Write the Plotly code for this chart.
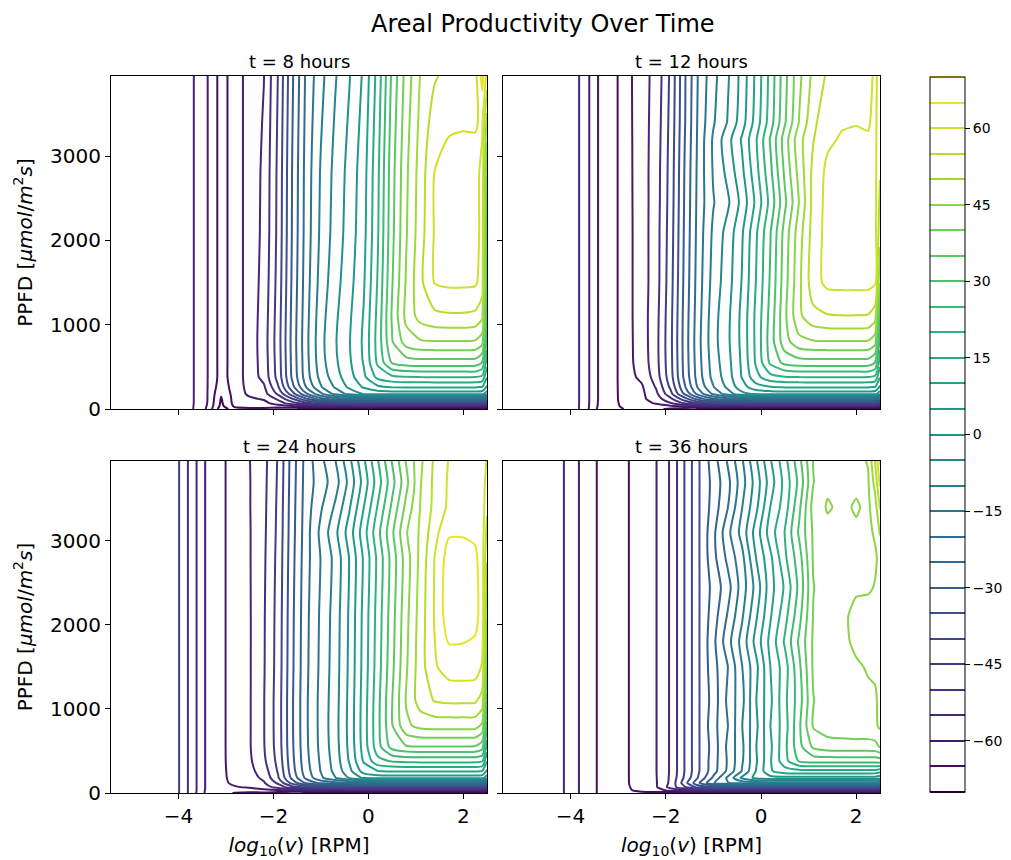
import plotly.graph_objects as go

# ---- grid (log10 rotation speed, PPFD) ----
LOGV = [-5.42, -4.3, -4.0, -3.7, -3.4, -3.1, -2.8, -2.5, -2.2, -1.9, -1.6, -1.3, -1.0,
        -0.7, -0.4, -0.1, 0.2, 0.5, 0.8, 1.1, 1.4, 1.7, 2.0, 2.25, 2.4, 2.5]
PPFD_8 = [0, 30, 70, 120, 180, 260, 380, 550, 800, 1100, 1500, 2100, 2800, 3400, 3950]
PPFD_12 = [0, 30, 70, 120, 180, 260, 380, 550, 800, 1100, 1500, 2100, 2450, 2800, 3200, 3400, 3950]
PPFD_24 = [0, 30, 70, 120, 180, 260, 380, 550, 800, 1100, 1500, 2100, 2800, 3100, 3400, 3700, 3950]
PPFD_36 = [0, 30, 70, 120, 180, 260, 380, 550, 800, 1100, 1500, 1800, 2100, 2450, 2800,
           3100, 3400, 3700, 3950]

# areal productivity, rows follow PPFD, columns follow LOGV
Z_8H = [
    [-52.5, -52.6, -52.8, -54.8, -60.5, -73.0, -67.0, -66.0, -66.5, -68.0, -69.5, -71.0, -72.0, -72.0, -72.0, -72.0, -72.0, -72.0, -72.0, -72.0, -72.0, -72.0, -72.0, -72.0, -72.0, -72.0],
    [-52.5, -52.6, -52.8, -54.7, -60.2, -71.5, -64.0, -63.5, -63.0, -62.5, -61.0, -59.5, -58.8, -58.3, -58.1, -58.1, -58.1, -58.1, -58.1, -58.1, -58.1, -58.1, -58.1, -58.1, -58.1, -60.5],
    [-52.5, -52.6, -52.8, -54.6, -59.8, -70.8, -63.0, -62.0, -61.5, -57.5, -52.0, -46.0, -43.0, -41.0, -40.5, -40.3, -40.2, -40.2, -40.2, -40.2, -40.2, -40.2, -40.2, -40.2, -40.5, -43.0],
    [-52.5, -52.6, -52.8, -54.6, -59.6, -70.4, -62.8, -60.8, -59.5, -54.0, -45.3, -35.3, -27.0, -23.0, -21.0, -20.5, -20.2, -20.2, -20.2, -20.2, -20.2, -20.2, -20.2, -20.2, -20.5, -24.0],
    [-52.5, -52.6, -52.8, -54.6, -59.6, -69.5, -62.6, -59.0, -57.0, -49.0, -37.0, -25.5, -16.0, -8.5, -3.5, 0.3, 1.6, 2.0, 2.0, 2.0, 2.0, 2.0, 2.0, 2.0, 1.6, -3.0],
    [-52.5, -52.6, -52.8, -54.6, -59.6, -68.0, -62.5, -58.3, -55.8, -45.5, -31.5, -19.5, -10.5, -4.5, 1.0, 5.5, 9.0, 10.3, 10.5, 10.5, 10.5, 10.5, 10.5, 10.5, 9.8, 4.0],
    [-52.5, -52.6, -52.8, -54.6, -59.6, -67.0, -62.5, -57.8, -53.4, -43.1, -29.0, -17.0, -8.3, -2.2, 3.0, 8.8, 16.5, 19.0, 19.8, 20.1, 20.2, 20.2, 20.2, 20.1, 19.0, 10.3],
    [-52.5, -52.6, -52.8, -54.6, -59.6, -67.0, -62.5, -57.8, -52.9, -42.6, -28.5, -16.5, -7.0, -1.0, 4.2, 10.3, 21.0, 30.5, 32.5, 33.0, 33.0, 33.0, 33.0, 32.8, 29.7, 17.0],
    [-52.5, -52.6, -52.8, -54.6, -59.6, -67.0, -62.5, -57.8, -52.6, -42.3, -28.2, -16.2, -6.5, -0.5, 4.7, 10.8, 22.0, 34.6, 42.5, 44.5, 44.8, 44.8, 44.8, 44.6, 42.0, 22.0],
    [-52.5, -52.6, -52.8, -54.6, -59.6, -67.0, -62.5, -57.8, -52.9, -42.6, -28.5, -16.5, -7.0, -1.0, 4.2, 10.3, 21.5, 35.6, 46.6, 52.0, 53.8, 54.3, 54.3, 53.8, 51.0, 26.0],
    [-52.5, -52.6, -52.8, -54.6, -59.6, -67.0, -62.5, -57.8, -53.4, -43.1, -29.0, -17.0, -8.0, -2.0, 3.2, 9.3, 20.5, 34.6, 45.6, 53.9, 60.3, 61.0, 61.0, 60.8, 58.0, 29.0],
    [-52.5, -52.6, -52.8, -54.6, -59.6, -67.0, -62.5, -57.8, -53.9, -43.6, -29.5, -17.5, -9.0, -3.0, 2.2, 8.3, 19.5, 33.6, 44.6, 52.9, 60.5, 62.8, 63.5, 62.0, 58.5, 33.0],
    [-52.5, -52.6, -52.8, -54.6, -59.6, -67.0, -62.5, -57.8, -54.1, -43.8, -29.7, -17.7, -9.5, -3.5, 1.7, 7.8, 19.0, 33.1, 44.1, 52.4, 60.2, 62.6, 63.3, 62.0, 58.5, 40.4],
    [-52.5, -52.6, -52.8, -54.6, -59.6, -67.0, -62.5, -57.8, -54.6, -44.3, -30.2, -18.2, -10.5, -4.5, 0.7, 6.8, 18.0, 32.1, 43.1, 51.4, 57.5, 59.0, 59.3, 59.5, 60.8, 48.0],
    [-52.5, -52.6, -52.8, -54.6, -59.6, -67.0, -62.5, -57.8, -55.1, -44.8, -30.7, -18.7, -11.5, -5.5, -0.3, 5.8, 17.0, 31.1, 42.1, 50.4, 54.5, 56.5, 57.0, 58.0, 67.0, 58.0],
]

Z_12H = [
    [-51.0, -51.1, -51.3, -57.6, -66.5, -67.5, -64.0, -63.5, -64.0, -66.0, -68.0, -70.5, -71.5, -72.0, -72.0, -72.0, -72.0, -72.0, -72.0, -72.0, -72.0, -72.0, -72.0, -72.0, -72.0, -72.0],
    [-51.0, -51.1, -51.3, -57.6, -66.0, -67.0, -62.5, -62.0, -62.0, -61.5, -60.5, -59.5, -58.8, -58.3, -58.1, -58.1, -58.1, -58.1, -58.1, -58.1, -58.1, -58.1, -58.1, -58.1, -58.1, -60.5],
    [-51.0, -51.1, -51.3, -57.5, -65.8, -66.7, -62.0, -61.5, -59.5, -55.3, -49.0, -44.0, -41.5, -40.6, -40.3, -40.2, -40.2, -40.2, -40.2, -40.2, -40.2, -40.2, -40.2, -40.2, -40.5, -43.0],
    [-51.0, -51.1, -51.3, -57.5, -65.6, -66.5, -61.8, -61.0, -57.5, -51.0, -42.0, -32.0, -25.5, -22.0, -20.8, -20.3, -20.2, -20.2, -20.2, -20.2, -20.2, -20.2, -20.2, -20.2, -20.5, -24.0],
    [-51.0, -51.1, -51.3, -57.5, -65.6, -66.5, -61.6, -61.0, -56.0, -46.5, -34.0, -22.5, -14.0, -7.5, -1.5, 1.3, 1.8, 2.0, 2.0, 2.0, 2.0, 2.0, 2.0, 2.0, 1.6, -3.0],
    [-51.0, -51.1, -51.3, -57.5, -65.6, -66.5, -61.5, -60.5, -54.5, -44.0, -30.5, -18.5, -10.3, -4.0, 3.0, 8.0, 9.8, 10.4, 10.5, 10.5, 10.5, 10.5, 10.5, 10.5, 9.8, 4.0],
    [-51.0, -51.1, -51.3, -57.5, -65.6, -66.5, -61.4, -59.0, -52.5, -42.0, -28.5, -16.9, -8.3, -2.4, 5.3, 13.5, 18.5, 19.8, 20.1, 20.2, 20.2, 20.2, 20.2, 20.1, 19.0, 10.3],
    [-51.0, -51.1, -51.3, -57.5, -65.6, -66.5, -61.4, -57.8, -51.7, -41.5, -28.0, -16.4, -7.5, -1.7, 5.8, 15.8, 26.0, 31.5, 32.8, 33.0, 33.0, 33.0, 33.0, 32.8, 29.7, 17.0],
    [-51.0, -51.1, -51.3, -57.5, -65.6, -66.5, -61.4, -57.5, -51.5, -41.3, -27.8, -16.0, -6.8, -1.0, 6.3, 16.3, 27.5, 38.0, 43.5, 44.6, 44.8, 44.8, 44.8, 44.6, 42.0, 22.0],
    [-51.0, -51.1, -51.3, -57.5, -65.6, -66.5, -61.4, -57.3, -51.7, -41.5, -28.0, -16.4, -7.0, -1.2, 6.3, 16.3, 26.8, 38.9, 49.0, 53.5, 54.6, 54.8, 54.8, 54.6, 52.0, 27.0],
    [-51.0, -51.1, -51.3, -57.5, -65.6, -66.5, -61.4, -57.3, -52.2, -42.0, -28.5, -16.9, -8.0, -2.2, 5.3, 15.3, 25.8, 37.9, 48.7, 58.0, 61.3, 61.5, 61.5, 61.5, 60.8, 45.4],
    [-51.0, -51.1, -51.3, -57.5, -65.6, -66.5, -61.4, -57.3, -52.2, -42.5, -29.0, -17.4, -9.0, -3.2, 4.3, 14.3, 24.8, 36.9, 47.7, 57.2, 61.8, 62.8, 63.0, 62.5, 61.5, 52.0],
    [-51.0, -51.1, -51.3, -57.5, -65.6, -66.5, -61.4, -57.2, -52.4, -42.8, -29.3, -17.7, -10.3, -5.9, 1.6, 11.3, 21.8, 33.9, 45.2, 56.9, 61.6, 62.7, 62.8, 62.3, 61.4, 53.7],
    [-51.0, -51.1, -51.3, -57.5, -65.6, -66.5, -61.4, -57.1, -52.5, -43.0, -29.5, -17.9, -9.5, -3.7, 3.8, 13.3, 23.8, 35.9, 46.7, 56.5, 61.3, 62.5, 62.5, 62.0, 61.2, 55.4],
    [-51.0, -51.1, -51.3, -57.5, -65.6, -66.5, -61.4, -57.0, -52.8, -43.3, -30.0, -18.2, -9.2, -1.9, 5.6, 14.6, 25.6, 37.4, 48.2, 54.8, 59.1, 60.5, 60.7, 60.4, 61.1, 56.5],
    [-51.0, -51.1, -51.3, -57.5, -65.6, -66.5, -61.4, -56.9, -53.0, -43.5, -30.3, -18.4, -10.5, -4.7, 2.8, 12.3, 22.8, 34.4, 45.2, 54.0, 58.0, 59.5, 59.8, 59.6, 61.0, 57.0],
    [-51.0, -51.1, -51.3, -57.5, -65.6, -66.5, -61.4, -56.7, -53.5, -44.0, -30.5, -18.9, -11.5, -5.7, 1.8, 11.3, 21.8, 33.4, 43.7, 51.5, 55.8, 57.0, 57.5, 57.5, 61.5, 57.0],
]

Z_24H = [
    [-43.0, -43.2, -44.6, -52.8, -61.5, -63.0, -65.5, -66.5, -66.0, -67.5, -69.0, -70.5, -71.5, -72.0, -72.0, -72.0, -72.0, -72.0, -72.0, -72.0, -72.0, -72.0, -72.0, -72.0, -72.0, -72.0],
    [-43.0, -43.2, -44.6, -52.7, -61.2, -62.0, -61.5, -62.0, -61.5, -61.0, -60.5, -59.5, -58.8, -58.3, -58.1, -58.1, -58.1, -58.1, -58.1, -58.1, -58.1, -58.1, -58.1, -58.1, -58.1, -60.5],
    [-43.0, -43.2, -44.6, -52.7, -61.0, -61.3, -60.3, -59.5, -57.5, -53.0, -47.0, -43.0, -41.2, -40.6, -40.3, -40.2, -40.2, -40.2, -40.2, -40.2, -40.2, -40.2, -40.2, -40.2, -40.5, -43.0],
    [-43.0, -43.2, -44.6, -52.7, -61.0, -61.1, -59.0, -58.0, -55.5, -49.0, -38.0, -29.0, -23.5, -21.5, -20.7, -20.3, -20.2, -20.2, -20.2, -20.2, -20.2, -20.2, -20.2, -20.2, -20.5, -24.0],
    [-43.0, -43.2, -44.6, -52.7, -61.0, -61.0, -58.5, -57.0, -54.0, -45.5, -33.5, -23.5, -16.0, -10.3, -4.5, 0.8, 1.8, 2.0, 2.0, 2.0, 2.0, 2.0, 2.0, 2.0, 1.6, -3.0],
    [-43.0, -43.2, -44.6, -52.7, -61.0, -61.0, -58.2, -56.5, -52.5, -44.5, -32.0, -22.0, -14.8, -8.6, -1.5, 7.0, 9.8, 10.4, 10.5, 10.5, 10.5, 10.5, 10.5, 10.5, 9.8, 4.0],
    [-43.0, -43.2, -44.6, -52.7, -61.0, -61.0, -57.9, -55.8, -51.0, -43.5, -31.2, -21.3, -14.2, -7.9, 0.4, 10.5, 18.5, 20.5, 21.2, 21.5, 21.5, 21.5, 21.5, 21.4, 20.5, 10.3],
    [-43.0, -43.2, -44.6, -52.7, -61.0, -61.0, -57.8, -55.4, -50.3, -42.8, -30.7, -20.8, -13.6, -7.3, 1.2, 12.0, 23.0, 32.0, 34.5, 34.8, 34.8, 34.8, 34.8, 34.6, 32.0, 18.0],
    [-43.0, -43.2, -44.6, -52.7, -61.0, -61.0, -57.8, -55.4, -50.2, -42.6, -30.5, -20.6, -13.4, -7.0, 1.5, 12.4, 23.6, 34.6, 44.0, 46.5, 47.0, 47.0, 47.0, 46.8, 44.0, 24.0],
    [-43.0, -43.2, -44.6, -52.7, -61.0, -61.0, -57.8, -55.4, -50.2, -42.6, -30.5, -20.6, -13.4, -7.2, 1.3, 12.2, 23.4, 34.8, 45.5, 52.6, 55.3, 56.0, 56.0, 55.8, 53.0, 30.0],
    [-43.0, -43.2, -44.6, -52.7, -61.0, -61.0, -57.8, -55.4, -50.4, -42.9, -30.8, -20.9, -13.8, -7.5, 1.0, 11.7, 22.6, 33.7, 44.4, 52.9, 59.4, 62.5, 62.8, 62.5, 59.5, 38.0],
    [-43.0, -43.2, -44.6, -52.7, -61.0, -61.0, -57.8, -55.4, -50.5, -43.1, -31.0, -21.1, -14.1, -7.8, 0.7, 11.4, 22.1, 32.9, 43.6, 52.4, 60.5, 68.0, 67.5, 66.5, 63.0, 45.4],
    [-43.0, -43.2, -44.6, -52.7, -61.0, -61.0, -57.8, -55.3, -50.8, -43.5, -31.5, -21.6, -14.8, -8.5, 0.2, 10.6, 21.3, 32.0, 42.6, 51.5, 60.2, 67.5, 67.0, 66.0, 62.5, 50.4],
    [-43.0, -43.2, -44.6, -52.7, -61.0, -61.0, -57.8, -55.3, -51.0, -43.8, -31.8, -21.9, -13.7, -6.4, 2.3, 12.7, 23.4, 34.0, 44.6, 50.9, 58.4, 64.3, 64.5, 64.0, 62.8, 53.2],
    [-43.0, -43.2, -44.6, -52.7, -61.0, -61.0, -57.8, -55.2, -51.2, -44.0, -32.0, -22.2, -15.6, -9.3, -0.6, 9.8, 20.5, 31.0, 41.5, 50.3, 56.5, 61.0, 62.0, 62.0, 63.0, 56.0],
    [-43.0, -43.2, -44.6, -52.7, -61.0, -61.0, -57.8, -55.2, -51.4, -44.3, -32.3, -22.5, -17.5, -12.3, -3.5, 6.9, 17.6, 28.2, 38.5, 49.7, 56.3, 60.7, 61.3, 61.8, 62.8, 57.8],
    [-43.0, -43.2, -44.6, -52.7, -61.0, -61.0, -57.8, -55.1, -51.6, -44.5, -32.5, -22.7, -16.3, -10.3, -1.4, 9.0, 19.7, 30.3, 40.5, 49.0, 56.0, 60.3, 60.5, 61.5, 62.5, 59.6],
]

Z_36H = [
    [-53.0, -53.3, -56.5, -62.5, -65.5, -67.5, -66.0, -66.0, -67.0, -68.5, -70.5, -71.0, -72.0, -72.0, -72.0, -72.0, -72.0, -72.0, -72.0, -72.0, -72.0, -72.0, -72.0, -72.0, -72.0, -72.0],
    [-53.0, -53.3, -56.5, -62.5, -65.5, -67.2, -65.5, -64.0, -62.0, -59.0, -57.0, -56.0, -55.5, -55.3, -55.2, -55.2, -55.2, -55.2, -55.2, -55.2, -55.2, -55.2, -55.2, -55.2, -55.2, -57.0],
    [-53.0, -53.3, -56.5, -62.5, -65.5, -67.0, -65.3, -63.5, -60.5, -53.0, -45.5, -38.0, -36.0, -35.4, -35.2, -35.2, -35.2, -35.2, -35.2, -35.2, -35.2, -35.2, -35.2, -35.2, -35.2, -37.0],
    [-53.0, -53.3, -56.5, -62.5, -65.5, -67.0, -65.2, -63.0, -60.3, -54.0, -42.0, -30.3, -20.3, -15.3, -12.8, -12.3, -12.1, -12.1, -12.1, -12.1, -12.1, -12.1, -12.1, -12.1, -12.1, -14.0],
    [-53.0, -53.3, -56.5, -62.5, -65.5, -67.0, -65.2, -62.8, -60.2, -54.2, -44.0, -34.0, -24.0, -14.0, -4.0, 1.5, 3.2, 3.4, 3.5, 3.5, 3.5, 3.5, 3.5, 3.5, 3.3, 2.0],
    [-53.0, -53.3, -56.5, -62.5, -65.5, -67.0, -65.2, -62.7, -60.1, -54.4, -44.7, -35.2, -27.0, -19.0, -9.7, 0.3, 9.5, 12.8, 13.4, 13.5, 13.5, 13.5, 13.5, 13.5, 13.3, 12.0],
    [-53.0, -53.3, -56.5, -62.5, -65.5, -67.0, -65.2, -62.7, -60.1, -54.4, -44.7, -35.2, -27.3, -19.5, -10.7, -0.6, 9.6, 18.2, 25.5, 26.8, 27.0, 27.0, 27.0, 27.0, 27.0, 27.5],
    [-53.0, -53.3, -56.5, -62.5, -65.5, -67.0, -65.2, -62.7, -60.1, -54.4, -44.7, -35.2, -27.8, -19.0, -11.2, -0.1, 9.1, 18.7, 28.3, 36.0, 37.8, 38.0, 38.0, 38.0, 38.5, 40.4],
    [-53.0, -53.3, -56.5, -62.5, -65.5, -67.0, -65.2, -62.7, -60.1, -54.4, -44.7, -35.2, -26.8, -20.2, -10.2, -1.1, 10.1, 17.7, 29.0, 40.6, 42.5, 43.0, 43.5, 43.5, 44.0, 46.0],
    [-53.0, -53.3, -56.5, -62.5, -65.5, -67.0, -65.2, -62.7, -60.1, -54.4, -44.7, -35.2, -27.8, -19.0, -11.5, -0.1, 9.1, 18.7, 27.6, 39.8, 43.0, 43.5, 44.0, 44.3, 44.5, 46.0],
    [-53.0, -53.3, -56.5, -62.5, -65.5, -67.0, -65.2, -62.7, -60.1, -54.4, -44.7, -35.2, -26.8, -20.2, -10.2, -1.3, 10.1, 17.7, 28.8, 40.8, 43.0, 44.0, 44.5, 45.3, 45.6, 47.0],
    [-53.0, -53.3, -56.5, -62.5, -65.5, -67.0, -65.2, -62.7, -60.1, -54.4, -44.7, -35.2, -26.3, -17.0, -8.2, 1.9, 11.6, 20.7, 30.8, 40.8, 43.0, 44.0, 45.8, 46.2, 46.3, 47.0],
    [-53.0, -53.3, -56.5, -62.5, -65.5, -67.0, -65.2, -62.7, -60.1, -54.4, -44.7, -35.2, -27.3, -19.5, -10.7, -0.6, 9.6, 18.2, 28.3, 40.3, 43.0, 44.2, 46.0, 46.5, 46.5, 47.0],
    [-53.0, -53.3, -56.5, -62.5, -65.5, -67.0, -65.2, -62.7, -60.1, -54.4, -44.7, -35.2, -28.3, -22.0, -12.7, -3.1, 8.1, 15.7, 26.3, 39.8, 43.0, 43.8, 44.5, 44.5, 45.2, 46.5],
    [-53.0, -53.3, -56.5, -62.5, -65.5, -67.0, -65.2, -62.7, -60.1, -54.4, -44.7, -35.2, -26.5, -18.8, -11.5, 0.2, 9.0, 19.0, 27.8, 40.6, 43.0, 43.5, 44.0, 44.0, 44.5, 46.0],
    [-53.0, -53.3, -56.5, -62.5, -65.5, -67.0, -65.2, -62.7, -60.1, -54.4, -44.7, -35.2, -26.3, -16.5, -8.2, 2.4, 12.6, 20.2, 30.8, 40.8, 43.5, 43.5, 44.2, 44.2, 45.5, 50.5],
    [-53.0, -53.3, -56.5, -62.5, -65.5, -67.0, -65.2, -62.7, -60.1, -54.4, -44.7, -35.2, -27.8, -20.2, -10.2, -1.1, 10.2, 17.5, 28.8, 42.0, 45.5, 44.0, 45.5, 44.0, 48.0, 55.4],
    [-53.0, -53.3, -56.5, -62.5, -65.5, -67.0, -65.2, -62.7, -60.1, -54.4, -44.7, -35.2, -28.3, -21.5, -12.2, -2.6, 7.6, 16.7, 26.3, 39.8, 44.0, 43.5, 44.0, 44.5, 52.0, 61.0],
    [-53.0, -53.3, -56.5, -62.5, -65.5, -67.0, -65.2, -62.7, -60.1, -54.4, -44.7, -35.2, -27.3, -19.5, -10.7, -0.6, 9.6, 18.2, 28.3, 40.3, 43.0, 43.0, 43.5, 45.3, 55.4, 66.0],
]

PANEL_TITLES = ["t = 8 hours", "t = 12 hours", "t = 24 hours", "t = 36 hours"]
PANEL_DATA = [Z_8H, Z_12H, Z_24H, Z_36H]
PANEL_PPFD = [PPFD_8, PPFD_12, PPFD_24, PPFD_36]
X_TICKS = [-4, -2, 0, 2]
X_TICKTEXT = ["\u22124", "\u22122", "0", "2"]
Y_TICKS = [0, 1000, 2000, 3000]
CB_TICKS = [-60, -45, -30, -15, 0, 15, 30, 45, 60]
CB_TICKTEXT = ["\u221260", "\u221245", "\u221230", "\u221215", "0", "15", "30", "45", "60"]
LEVEL_START, LEVEL_END, LEVEL_STEP = -70, 70, 5

W, H = 1011, 860
FONT = "DejaVu Sans"

def px_x(p):
    return p / W

def px_y(p):
    return 1 - p / H

fig = go.Figure()

panels = [  # (left, right, top, bottom) in pixels
    (111, 487, 76, 409),
    (503, 880, 76, 409),
    (111, 487, 461, 793),
    (503, 880, 461, 793),
]

for i, (z, yv, title) in enumerate(zip(PANEL_DATA, PANEL_PPFD, PANEL_TITLES)):
    k = "" if i == 0 else str(i + 1)
    fig.add_trace(go.Contour(
        x=LOGV, y=yv, z=z,
        xaxis="x" + k, yaxis="y" + k,
        contours=dict(start=LEVEL_START, end=LEVEL_END, size=LEVEL_STEP, coloring="lines"),
        colorscale="Viridis",
        line=dict(width=2, smoothing=0.6),
        showscale=(i == 0),
        colorbar=dict(
            x=px_x(930), xanchor="left", xpad=0,
            y=px_y((77 + 792) / 2), yanchor="middle", ypad=0,
            len=(792 - 77) / H, lenmode="fraction",
            thickness=35, thicknessmode="pixels",
            outlinecolor="black", outlinewidth=1,
            ticks="outside", ticklen=5, tickcolor="black",
            tickvals=CB_TICKS, ticktext=CB_TICKTEXT,
            tickfont=dict(family=FONT, size=14, color="black"),
        ),
        hoverinfo="skip",
    ))
    l, r, t, b = panels[i]
    axis_common = dict(showline=True, mirror=True, linecolor="black", linewidth=1,
                       ticks="outside", ticklen=5, tickcolor="black", tickwidth=1,
                       showgrid=False, zeroline=False, automargin=False,
                       tickfont=dict(family=FONT, size=20, color="black"))
    xa = dict(domain=[px_x(l), px_x(r)], anchor="y" + k, range=[-5.42, 2.5],
              tickvals=X_TICKS, ticktext=X_TICKTEXT, showticklabels=(i >= 2), **axis_common)
    ya = dict(domain=[px_y(b), px_y(t)], anchor="x" + k, range=[0, 3950],
              tickvals=Y_TICKS, showticklabels=(i % 2 == 0), **axis_common)
    if i >= 2:
        xa["title"] = dict(text="<i>log</i><sub>10</sub>(<i>v</i>) [RPM]",
                           font=dict(family=FONT, size=20, color="black"), standoff=10)
    if i % 2 == 0:
        ya["title"] = dict(text="PPFD [<i>\u03bcmol</i>/<i>m</i><sup>2</sup><i>s</i>]",
                           font=dict(family=FONT, size=20, color="black"), standoff=12)
    fig.layout["xaxis" + k] = xa
    fig.layout["yaxis" + k] = ya
    fig.add_annotation(text=title, x=px_x((l + r) / 2), y=px_y(t - 15), xref="paper", yref="paper",
                       showarrow=False, xanchor="center", yanchor="middle",
                       font=dict(family=FONT, size=18, color="black"))

fig.add_annotation(text="Areal Productivity Over Time", x=px_x(543), y=px_y(24),
                   xref="paper", yref="paper", showarrow=False, xanchor="center", yanchor="middle",
                   font=dict(family=FONT, size=24, color="black"))

fig.update_layout(width=W, height=H, margin=dict(l=0, r=0, t=0, b=0, autoexpand=False),
                  paper_bgcolor="white", plot_bgcolor="white", showlegend=False)

fig.write_html("out.html")
